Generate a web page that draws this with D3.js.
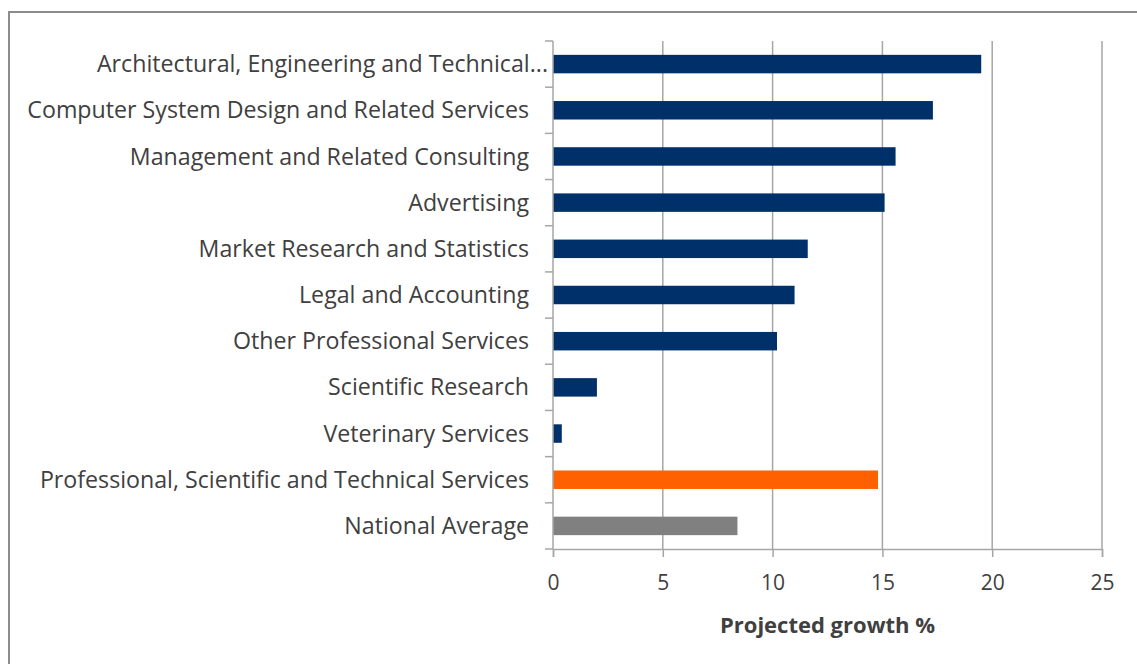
<!DOCTYPE html>
<html>
<head>
<meta charset="utf-8">
<script src="https://cdn.jsdelivr.net/npm/d3@7"></script>
<style>
  body { margin: 0; background: #fff; }
  svg text { font-family: "Open Sans", "Noto Sans", sans-serif; }
</style>
</head>
<body>
<svg id="chart" width="1137" height="664"></svg>
<script>
// categories, top to bottom
const categories = [
  "Architectural, Engineering and Technical...",
  "Computer System Design and Related Services",
  "Management and Related Consulting",
  "Advertising",
  "Market Research and Statistics",
  "Legal and Accounting",
  "Other Professional Services",
  "Scientific Research",
  "Veterinary Services",
  "Professional, Scientific and Technical Services",
  "National Average"
];
const growth = [19.5, 17.3, 15.6, 15.1, 11.6, 11.0, 10.2, 2.0, 0.4, 14.8, 8.4];
const barKinds = ["sub", "sub", "sub", "sub", "sub", "sub", "sub", "sub", "sub", "sector", "national"];
const xTicks = [0, 5, 10, 15, 20, 25];
const axisTitle = "Projected growth %";

const kindColors = {
  sub: "#003069",
  sector: "#ff6000",
  national: "#808080"
};

const svg = d3.select("#chart");
const width = +svg.attr("width");
const height = +svg.attr("height");
const margin = { top: 41, right: 35, bottom: 115, left: 553 };
const plotW = width - margin.left - margin.right;
const plotH = height - margin.top - margin.bottom;

// outer frame (runs off the right/bottom edges)
svg.append("rect")
  .attr("x", 9).attr("y", 12)
  .attr("width", width + 20).attr("height", height + 20)
  .attr("fill", "none")
  .attr("stroke", "#8c8c8c")
  .attr("stroke-width", 2);

const g = svg.append("g").attr("transform", `translate(${margin.left},${margin.top})`);

const x = d3.scaleLinear().domain([0, 25]).range([0, plotW]);
const y = d3.scaleBand().domain(categories).range([0, plotH]).paddingInner(0.6).paddingOuter(0.3);
const yEdges = d3.scaleLinear().domain([0, categories.length]).range([0, plotH]);

// vertical gridlines
g.selectAll(".grid")
  .data(xTicks.slice(1))
  .join("line")
  .attr("x1", d => x(d)).attr("x2", d => x(d))
  .attr("y1", 0).attr("y2", plotH)
  .attr("stroke", "#a6a6a6")
  .attr("stroke-width", 1.5);

// bars
g.selectAll(".bar")
  .data(categories)
  .join("rect")
  .attr("x", x(0))
  .attr("y", d => y(d))
  .attr("width", (d, i) => x(growth[i]) - x(0))
  .attr("height", y.bandwidth())
  .attr("fill", (d, i) => kindColors[barKinds[i]]);

// left axis line and tick marks between categories
g.append("line")
  .attr("x1", 0).attr("x2", 0).attr("y1", 0).attr("y2", plotH)
  .attr("stroke", "#a6a6a6").attr("stroke-width", 1.5);
g.selectAll(".ytick")
  .data(d3.range(categories.length + 1))
  .join("line")
  .attr("x1", -8).attr("x2", 0)
  .attr("y1", d => yEdges(d)).attr("y2", d => yEdges(d))
  .attr("stroke", "#a6a6a6").attr("stroke-width", 1.5);

// category labels (the truncated one overflows toward the axis)
g.selectAll(".ylabel")
  .data(categories)
  .join("text")
  .attr("x", d => d.endsWith("...") ? -5 : -24)
  .attr("y", d => y(d) + y.bandwidth() / 2)
  .attr("dy", "0.35em")
  .attr("text-anchor", "end")
  .attr("font-size", 23.2)
  .attr("fill", "#404040")
  .text(d => d);

// bottom axis
const xAxis = g.append("g")
  .attr("transform", `translate(0,${plotH})`)
  .call(d3.axisBottom(x).tickValues(xTicks).tickSize(8).tickPadding(18));
xAxis.select(".domain").attr("stroke", "#a6a6a6").attr("stroke-width", 1.5);
xAxis.selectAll(".tick line").attr("stroke", "#a6a6a6").attr("stroke-width", 1.5);
xAxis.selectAll(".tick text")
  .attr("font-size", 21)
  .attr("fill", "#404040")
  .attr("font-family", "\"Open Sans\", sans-serif");

// axis title
g.append("text")
  .attr("x", plotW / 2)
  .attr("y", plotH + 84)
  .attr("text-anchor", "middle")
  .attr("font-size", 22)
  .attr("font-weight", "bold")
  .attr("fill", "#404040")
  .text(axisTitle);
</script>
</body>
</html>
